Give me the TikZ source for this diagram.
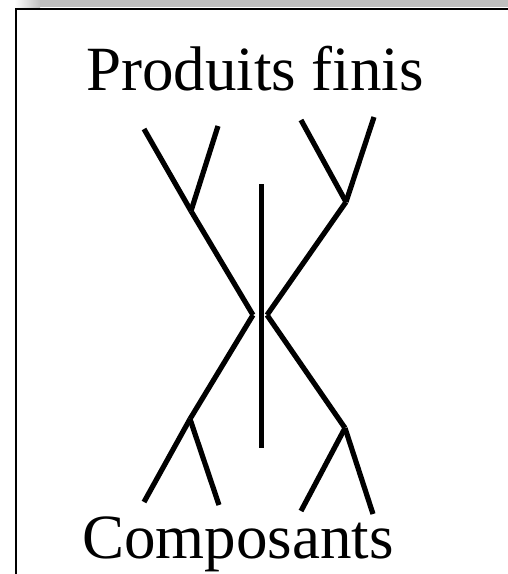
\documentclass[tikz,border=0pt]{standalone}
\usepackage{fontspec}
\setmainfont{Liberation Serif}
\usetikzlibrary{positioning}
\tikzset{
  branch/.style={line width=5.2pt, line cap=butt},
  title/.style={font=\fontsize{63}{70}\selectfont, inner sep=0pt, anchor=base}
}

\begin{document}
\begin{tikzpicture}[x=1pt,y=-1pt]
  \useasboundingbox (0,0) rectangle (508,574);
  \clip (0,0) rectangle (508,574);

  % shadow and frame
  \fill[gray!50] (40,0) rectangle (508,7);
  \shade[left color=white, right color=gray!50] (14,0) rectangle (40,7);
  \draw[line width=2pt] (16,9) rectangle (540,600);

  % labels
  \node[title] (produits) at (255,90) {Produits finis};
  \node[title] (composants) at (238,558) {Composants};

  % junctions and ends
  \coordinate (tl1) at (144,129);
  \coordinate (tl2) at (218,126);
  \coordinate (tlj) at (191,211);
  \coordinate (tr1) at (301,120);
  \coordinate (tr2) at (374,117);
  \coordinate (trj) at (346,202);
  \coordinate (cl) at (253,315);
  \coordinate (cr) at (267,315);
  \coordinate (blj) at (190,419);
  \coordinate (bl1) at (144,502);
  \coordinate (bl2) at (219,505);
  \coordinate (brj) at (345,428);
  \coordinate (br1) at (301,511);
  \coordinate (br2) at (373,514);
  \coordinate (axetop) at (261,184);
  \coordinate (axebot) at (261,448);

  % upper trees
  \draw[branch] (tl1) -- (tlj);
  \draw[branch] (tl2) -- (tlj);
  \draw[branch] (tlj) -- (cl);
  \draw[branch] (tr1) -- (trj);
  \draw[branch] (tr2) -- (trj);
  \draw[branch] (trj) -- (cr);

  % lower trees
  \draw[branch] (cl) -- (blj);
  \draw[branch] (blj) -- (bl1);
  \draw[branch] (blj) -- (bl2);
  \draw[branch] (cr) -- (brj);
  \draw[branch] (brj) -- (br1);
  \draw[branch] (brj) -- (br2);

  % middle axis
  \draw[line width=5pt] (axetop) -- (axebot);
\end{tikzpicture}
\end{document}
